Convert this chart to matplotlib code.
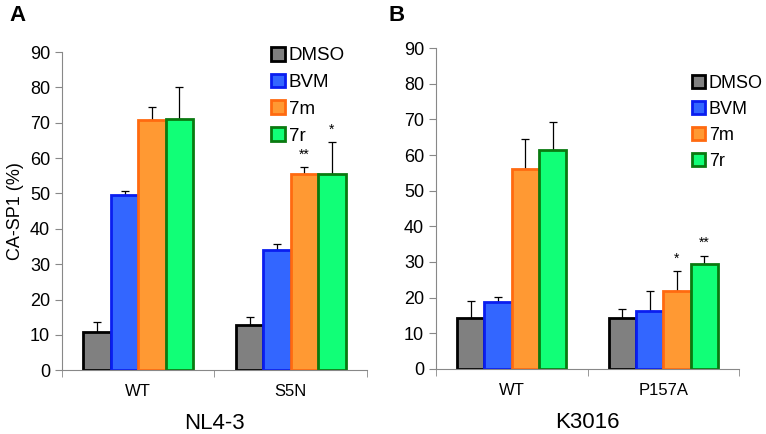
import matplotlib.pyplot as plt
import numpy as np

plt.rcParams['font.family'] = ['Liberation Sans', 'DejaVu Sans']

treatments = ["DMSO", "BVM", "7m", "7r"]
face_colors = ["#808080", "#3366ff", "#ff9933", "#11ff77"]
edge_colors = ["#000000", "#0a1ef0", "#ff6a10", "#0a7a10"]

# panel A: NL4-3
cats_a = ["WT", "S5N"]
vals_a = [[10.7, 12.8], [49.7, 34.1], [70.9, 55.6], [71.2, 55.6]]
errs_a = [[3.0, 2.2], [1.0, 1.6], [3.7, 1.9], [8.8, 9.0]]
stars_a = {(2, 1): "**", (3, 1): "*"}

# panel B: K3016
cats_b = ["WT", "P157A"]
vals_b = [[14.3, 14.3], [18.8, 16.3], [56.2, 21.8], [61.3, 29.3]]
errs_b = [[4.7, 2.5], [1.3, 5.5], [8.3, 5.7], [8.1, 2.5]]
stars_b = {(2, 1): "*", (3, 1): "**"}

fig = plt.figure(figsize=(7.66, 4.34), dpi=100)
ax_a = fig.add_axes([0.081, 0.147, 0.398, 0.733])
ax_b = fig.add_axes([0.569, 0.150, 0.396, 0.739])


def draw_panel(ax, cats, vals, errs, stars, title, legend_pos, legend_size):
    w = 0.18
    x = np.arange(len(cats))
    for i, name in enumerate(treatments):
        xs = x + (i - 1.5) * w
        ax.bar(xs, vals[i], w, color=face_colors[i], edgecolor=edge_colors[i],
               linewidth=2, label=name, zorder=2)
        ax.errorbar(xs, vals[i], yerr=[np.zeros(len(cats)), errs[i]], fmt="none",
                    ecolor="black", elinewidth=0.9, capsize=3, capthick=0.9, zorder=1)
    for (i, j), s in stars.items():
        xs = x[j] + (i - 1.5) * w
        ax.text(xs, vals[i][j] + errs[i][j] + 1.5, s, ha="center", va="bottom", fontsize=10)
    ax.set_xlim(-0.5, len(cats) - 0.5)
    ax.set_ylim(0, 90)
    ax.set_yticks(range(0, 91, 10))
    ax.set_xticks(x)
    ax.set_xticklabels(cats, fontsize=12)
    ax.tick_params(axis="x", length=0, pad=10)
    ax.set_xticks(np.arange(-0.5, len(cats), 1), minor=True)
    ax.tick_params(axis="x", which="minor", length=5, color="#888888")
    ax.tick_params(axis="y", labelsize=13, color="#888888", length=5)
    for sp in ["top", "right"]:
        ax.spines[sp].set_visible(False)
    for sp in ["left", "bottom"]:
        ax.spines[sp].set_color("#888888")
    ax.set_xlabel(title, fontsize=16, labelpad=10)
    ax.legend(loc="upper left", bbox_to_anchor=legend_pos, frameon=False, fontsize=legend_size,
              handlelength=0.75, handleheight=0.75, handletextpad=0.2, labelspacing=0.5,
              borderaxespad=0)


draw_panel(ax_a, cats_a, vals_a, errs_a, stars_a, "NL4-3", (0.66, 1.04), 13.5)
draw_panel(ax_b, cats_b, vals_b, errs_b, stars_b, "K3016", (0.82, 0.94), 13)
ax_a.set_ylabel("CA-SP1 (%)", fontsize=13)

fig.text(0.012, 0.965, "A", fontsize=16, fontweight="bold", va="center")
fig.text(0.507, 0.965, "B", fontsize=16, fontweight="bold", va="center")

fig.savefig("out.png", dpi=100)
